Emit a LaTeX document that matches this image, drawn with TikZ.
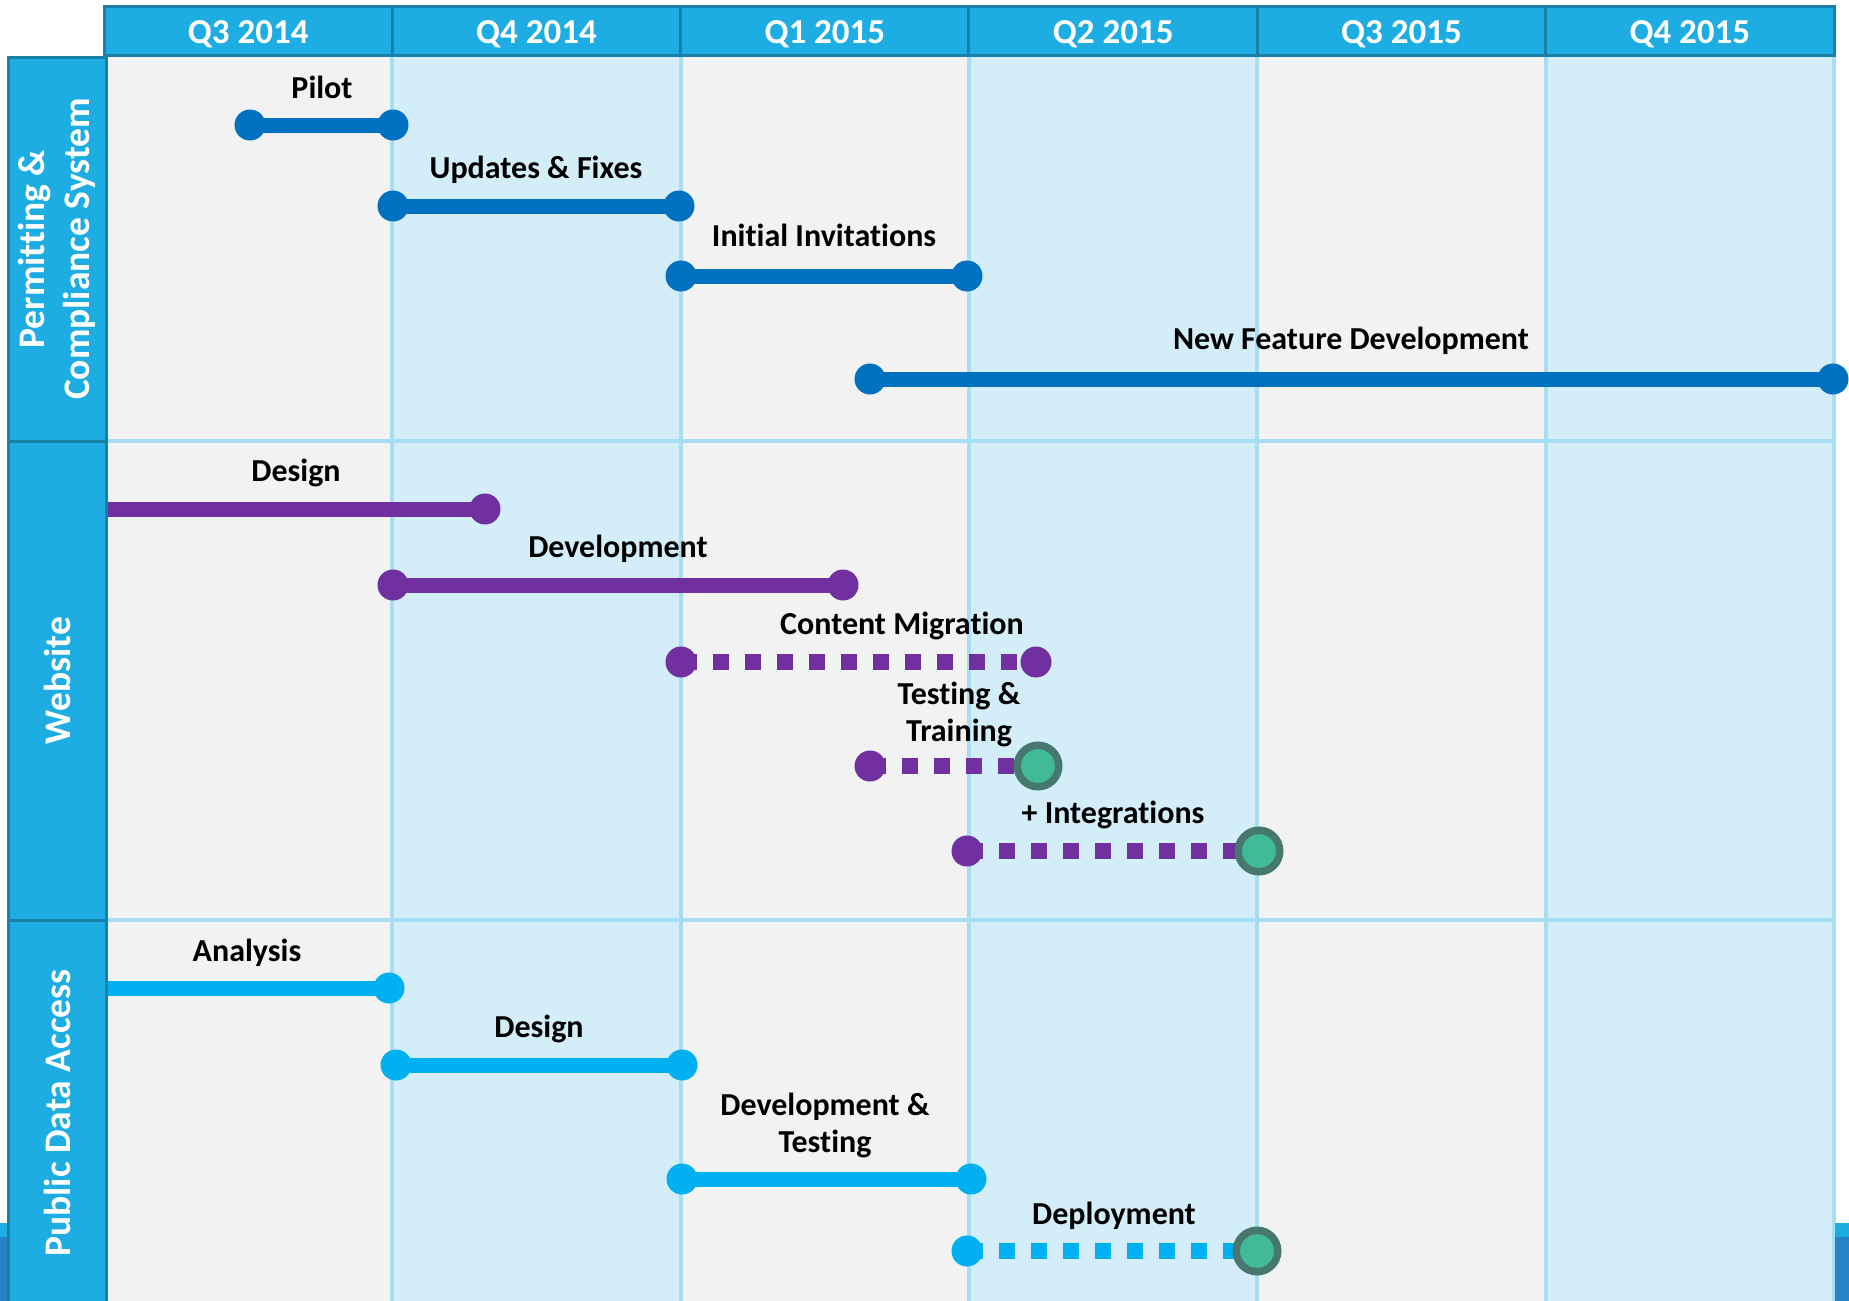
\documentclass[tikz,border=0pt]{standalone}
\usepackage{fontspec}
\setmainfont{Carlito}[Ligatures=NoCommon]
\usetikzlibrary{positioning}
\definecolor{headblue}{HTML}{1EADE3}
\definecolor{headline}{HTML}{1A80A8}
\definecolor{footblue}{HTML}{2683C6}
\definecolor{gridgray}{HTML}{F2F2F2}
\definecolor{gridblue}{HTML}{D3EEF9}
\definecolor{gridline}{HTML}{A8DEF4}
\definecolor{pcsblue}{HTML}{0070C0}
\definecolor{webpurple}{HTML}{7030A0}
\definecolor{pdacyan}{HTML}{00B0F0}
\definecolor{milegreen}{HTML}{41BB97}
\definecolor{mileedge}{HTML}{46786F}
\pgfdeclarelayer{grid}
\pgfdeclarelayer{bars}
\pgfsetlayers{grid,bars,main}

\begin{document}
\begin{tikzpicture}[x=0.5pt, y=-0.5pt,
    head/.style={draw=headline, fill=headblue, line width=1.5pt, inner sep=0pt, minimum width=144.17pt, minimum height=24.5pt, text height=13.3pt, text depth=0pt, text=white, font=\bfseries\fontsize{17.5}{21}\selectfont},
    side/.style={draw=headline, fill=headblue, line width=1.5pt, inner sep=0pt, minimum height=49pt, rotate=90, align=center, text=white, font=\bfseries\fontsize{18.75}{22.5}\selectfont},
    lbl/.style={inner sep=0pt, align=center, font=\bfseries\fontsize{16}{18.5}\selectfont},
    dot/.style={circle, fill=#1, inner sep=0pt, minimum size=15.5pt},
    mile/.style={circle, fill=milegreen, draw=mileedge, line width=3.75pt, inner sep=0pt, minimum size=20.75pt},
    bar/.style={line width=7.5pt, draw=#1},
    dotbar/.style={line width=8pt, dash pattern=on 8pt off 8pt, draw=#1}]
\useasboundingbox (0,0) rectangle (1849,1301);

\begin{pgfonlayer}{grid}
    \fill[white] (0,0) rectangle (1849,1301);
    \foreach \i in {0,2,4} \fill[gridgray] (104+\i*288.33,57) rectangle +(288.33,1250);
    \foreach \i in {1,3,5} \fill[gridblue] (104+\i*288.33,57) rectangle +(288.33,1250);
    \foreach \i in {1,...,6} \draw[gridline, line width=2pt] (104+\i*288.33,57) -- (104+\i*288.33,1301);
    \foreach \y in {441,920} \draw[gridline, line width=2pt] (106,\y) -- (1834,\y);
    \fill[headblue] (0,1223) rectangle (8,1237) (1835,1223) rectangle (1849,1237);
    \fill[footblue] (0,1237) rectangle (8,1301) (1835,1237) rectangle (1849,1301);
\end{pgfonlayer}

% quarters and swimlanes
\foreach \q [count=\i] in {Q3 2014,Q4 2014,Q1 2015,Q2 2015,Q3 2015,Q4 2015}
    \node[head] (Q\i) at (248.17+\i*288.33-288.33,30.5) {\q};
\node[side, minimum width=192pt] (S1) at (57,249) {Permitting \&\\Compliance System};
\node[side, minimum width=239.5pt] (S2) at (57,680.5) {Website};
\node[side, minimum width=193pt] (S3) at (57,1113) {Public Data Access};

% Permitting & Compliance System
\node[dot=pcsblue] (P1a) at (250,125) {};   \node[dot=pcsblue] (P1b) at (393,125) {};
\node[dot=pcsblue] (P2a) at (393,206) {};   \node[dot=pcsblue] (P2b) at (679,206) {};
\node[dot=pcsblue] (P3a) at (681,276) {};   \node[dot=pcsblue] (P3b) at (967,276) {};
\node[dot=pcsblue] (P4a) at (870,379) {};   \node[dot=pcsblue] (P4b) at (1833,379) {};
\node[lbl, anchor=base] (P1) at (322,98) {Pilot};
\node[lbl, anchor=base] (P2) at (536,178) {Updates \& Fixes};
\node[lbl, anchor=base] (P3) at (824,246) {Initial Invitations};
\node[lbl, anchor=base] (P4) at (1351,349) {New Feature Development};

% Website
\coordinate (W1a) at (106,509);             \node[dot=webpurple] (W1b) at (485,509) {};
\node[dot=webpurple] (W2a) at (393,585) {}; \node[dot=webpurple] (W2b) at (843,585) {};
\node[dot=webpurple] (W3a) at (681,662) {}; \node[dot=webpurple] (W3b) at (1036,662) {};
\node[dot=webpurple] (W4a) at (870,766) {}; \node[mile] (W4b) at (1038,766) {};
\node[dot=webpurple] (W5a) at (967,851) {}; \node[mile] (W5b) at (1259,851) {};
\node[lbl, anchor=base] (W1) at (296,481) {Design};
\node[lbl, anchor=base] (W2) at (618,557) {Development};
\node[lbl, anchor=base] (W3) at (902,634) {Content Migration};
\node[lbl] (W4) at (959,714) {Testing \&\\Training};
\node[lbl, anchor=base] (W5) at (1113,823) {+ Integrations};

% Public Data Access
\coordinate (D1a) at (106,988);             \node[dot=pdacyan] (D1b) at (389,988) {};
\node[dot=pdacyan] (D2a) at (396,1065) {};  \node[dot=pdacyan] (D2b) at (682,1065) {};
\node[dot=pdacyan] (D3a) at (682,1179) {};  \node[dot=pdacyan] (D3b) at (971,1179) {};
\node[dot=pdacyan] (D4a) at (967,1251) {};  \node[mile] (D4b) at (1257,1251) {};
\node[lbl, anchor=base] (D1) at (247,961) {Analysis};
\node[lbl, anchor=base] (D2) at (539,1037) {Design};
\node[lbl] (D3) at (825,1125) {Development \&\\Testing};
\node[lbl, anchor=base] (D4) at (1114,1224) {Deployment};

\begin{pgfonlayer}{bars}
    \draw[bar=pcsblue] (P1a.center) -- (P1b.center) (P2a.center) -- (P2b.center)
        (P3a.center) -- (P3b.center) (P4a.center) -- (P4b.center);
    \draw[bar=webpurple] (W1a) -- (W1b.center) (W2a.center) -- (W2b.center);
    \draw[dotbar=webpurple] (W3a.center) -- (W3b.center) (W4a.center) -- (W4b.center) (W5a.center) -- (W5b.center);
    \draw[bar=pdacyan] (D1a) -- (D1b.center) (D2a.center) -- (D2b.center) (D3a.center) -- (D3b.center);
    \draw[dotbar=pdacyan] (D4a.center) -- (D4b.center);
\end{pgfonlayer}
\end{tikzpicture}
\end{document}
